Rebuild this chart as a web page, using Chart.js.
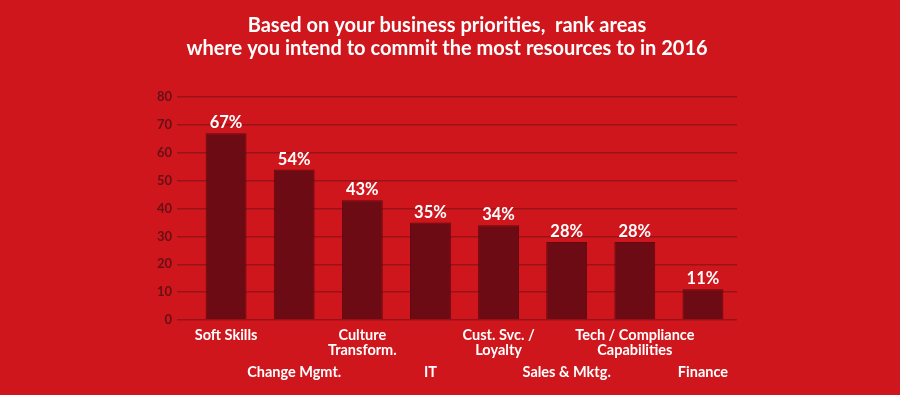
<!DOCTYPE html>
<html>
<head>
<meta charset="utf-8">
<script src="https://cdn.jsdelivr.net/npm/chart.js@4.4.1/dist/chart.umd.min.js"></script>
<style>
  html, body { margin: 0; padding: 0; background: #d0161d; }
  #chart { display: block; }
</style>
</head>
<body>
<canvas id="chart" width="900" height="395"></canvas>
<script>
// chart data
const titleLines = [
    'Based on your business priorities,  rank areas',
    'where you intend to commit the most resources to in 2016'
];
const categories = [
    ['Soft Skills'],
    ['Change Mgmt.'],
    ['Culture', 'Transform.'],
    ['IT'],
    ['Cust. Svc. /', 'Loyalty'],
    ['Sales & Mktg.'],
    ['Tech / Compliance', 'Capabilities'],
    ['Finance']
];
const shares = [67, 54, 43, 35, 34, 28, 28, 11];
const yTicks = [0, 10, 20, 30, 40, 50, 60, 70, 80];

const FONT = 'Lato, "Open Sans", sans-serif';

// percent labels on top of each bar
const valueLabels = {
    id: 'valueLabels',
    afterDatasetsDraw(chart) {
        const ctx = chart.ctx;
        const meta = chart.getDatasetMeta(0);
        ctx.save();
        ctx.fillStyle = '#ffffff';
        ctx.font = 'bold 16.5px ' + FONT;
        ctx.textAlign = 'center';
        ctx.textBaseline = 'bottom';
        meta.data.forEach((bar, i) => {
            ctx.fillText(shares[i] + '%', bar.x, bar.y - 2);
        });
        ctx.restore();
    }
};

// staggered category labels under the bars
const staggeredLabels = {
    id: 'staggeredLabels',
    afterDraw(chart) {
        const ctx = chart.ctx;
        const xs = chart.scales.x;
        const bottom = chart.chartArea.bottom;
        ctx.save();
        ctx.fillStyle = '#ffffff';
        ctx.font = 'bold 14.5px ' + FONT;
        ctx.textAlign = 'center';
        ctx.textBaseline = 'middle';
        categories.forEach((lines, i) => {
            const x = xs.getPixelForValue(i);
            const top = bottom + (i % 2 === 0 ? 15 : 52);
            lines.forEach((line, j) => ctx.fillText(line, x, top + j * 15));
        });
        ctx.restore();
    }
};

new Chart(document.getElementById('chart'), {
    type: 'bar',
    data: {
        labels: categories.map(c => c.join(' ')),
        datasets: [{
            data: shares,
            backgroundColor: '#6c0b13',
            borderColor: '#5e0a10',
            borderWidth: 1,
            barPercentage: 0.6,
            categoryPercentage: 1
        }]
    },
    options: {
        responsive: false,
        animation: false,
        layout: {
            padding: { top: 14, left: 157, right: 163, bottom: 67 }
        },
        plugins: {
            legend: { display: false },
            tooltip: { enabled: false },
            title: {
                display: true,
                text: titleLines,
                color: '#ffffff',
                font: { family: FONT, size: 20, weight: 'bold', lineHeight: 1.15 },
                padding: { top: 0, bottom: 37 }
            }
        },
        scales: {
            x: {
                ticks: { display: false },
                grid: { display: false },
                border: { display: false }
            },
            y: {
                min: 0,
                max: 80,
                afterBuildTicks: s => { s.ticks = yTicks.map(v => ({ value: v })); },
                afterFit: s => { s.width = 35; },
                ticks: {
                    color: '#641015',
                    padding: 5,
                    font: { family: FONT, size: 13, weight: 'bold' }
                },
                grid: {
                    color: '#9a1219',
                    lineWidth: 1.5,
                    drawTicks: true,
                    tickLength: 15
                },
                border: { display: false }
            }
        }
    },
    plugins: [valueLabels, staggeredLabels]
});
</script>
</body>
</html>
